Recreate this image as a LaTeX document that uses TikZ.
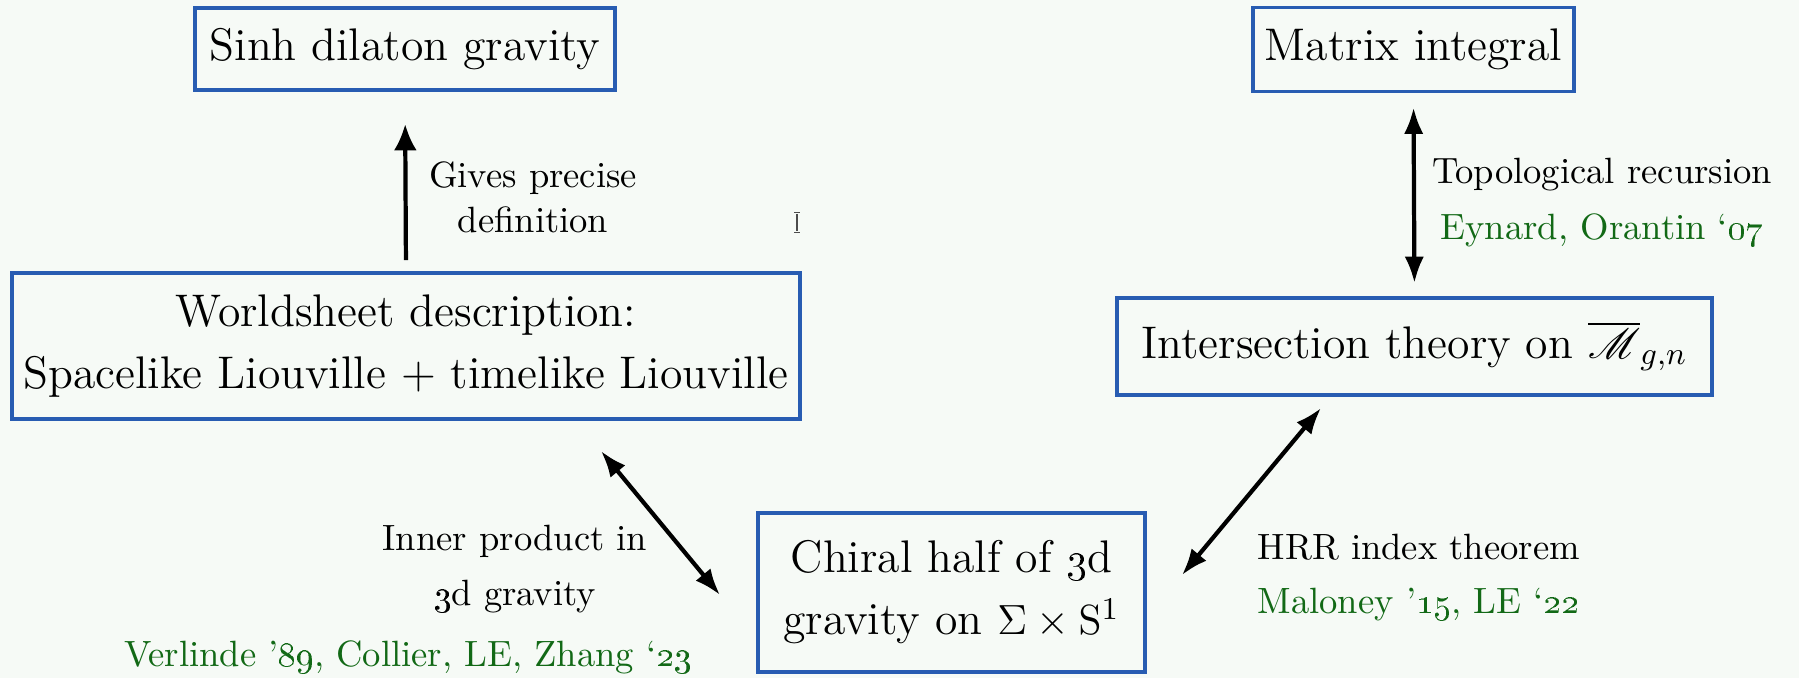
\documentclass[tikz,border=0pt]{standalone}
\usepackage{mathrsfs}
\usetikzlibrary{arrows.meta}
\definecolor{bg}{RGB}{246,250,246}
\definecolor{boxblue}{RGB}{40,92,178}
\definecolor{refgreen}{RGB}{18,105,22}
\tikzset{
  box/.style={draw=boxblue, line width=1.1pt, inner sep=0pt, align=center,
    font=\fontsize{13}{17.6}\selectfont},
  lab/.style={font=\fontsize{10.4}{12.8}\selectfont, inner sep=0pt},
  cite/.style={lab, text=refgreen},
  arr/.style={line width=1.2pt, -{Latex[length=7.5pt,width=6.5pt]}},
  darr/.style={line width=1.2pt, {Latex[length=7.5pt,width=5.5pt]}-{Latex[length=7.5pt,width=5.5pt]}},
  cursor/.style={line width=0.5pt, draw=black!70}
}
\begin{document}
\begin{tikzpicture}[x=0.01cm,y=-0.01cm]
\fill[bg] (0,0) rectangle (1799,678);
\useasboundingbox (0,0) rectangle (1799,678);

% boxes
\node[box, minimum width=4.20cm, minimum height=0.82cm] (sinh) at (405,49) {Sinh dilaton gravity};
\node[box, minimum width=3.21cm, minimum height=0.84cm] (matrix) at (1413.5,49.5) {Matrix integral};
\node[box, minimum width=7.88cm, minimum height=1.46cm] (world) at (406,346)
  {Worldsheet description:\\Spacelike Liouville + timelike Liouville};
\node[box, minimum width=5.95cm, minimum height=0.97cm] (inter) at (1414.5,346.5)
  {Intersection theory on $\overline{\mathscr{M}}_{g,n}$};
\node[box, minimum width=3.87cm, minimum height=1.59cm] (chiral) at (951.5,592.5)
  {Chiral half of \oldstylenums{3}d\\gravity on $\Sigma\times\mathrm{S}^1$};

% labels
\node[lab, align=center] (gp) at (533,197) {Gives precise\\definition};
\node[lab] (topo) at (1602,175) {Topological recursion};
\node[cite] (eo) at (1602,230) {Eynard, Orantin ‘\oldstylenums{07}};
\node[lab, anchor=west] (hrr) at (1257,547) {HRR index theorem};
\node[cite, anchor=west] (mal) at (1257,605) {Maloney ’\oldstylenums{15}, LE ‘\oldstylenums{22}};
\node[lab, align=center] (ip) at (515,569) {Inner product in\\[2.8pt]\oldstylenums{3}d gravity};
\node[cite] (ver) at (408,657) {Verlinde ’\oldstylenums{89}, Collier, LE, Zhang ‘\oldstylenums{23}};

% connectors
\draw[arr, shorten <=0.11cm, shorten >=0.32cm] (world.north) -- (sinh.south);
\draw[darr, shorten <=0.14cm, shorten >=0.13cm] (matrix.south) -- (inter.north);
\coordinate (hrrA) at (1182,575);
\coordinate (hrrB) at (1321,408);
\draw[darr] (hrrA) -- (hrrB);
\coordinate (ipA) at (601,451);
\coordinate (ipB) at (720,595);
\draw[darr] (ipA) -- (ipB);

% text cursor
\draw[cursor] (797,214) -- (797,231) (794,212.5) -- (800,212.5) (794,232.5) -- (800,232.5);
\end{tikzpicture}
\end{document}
